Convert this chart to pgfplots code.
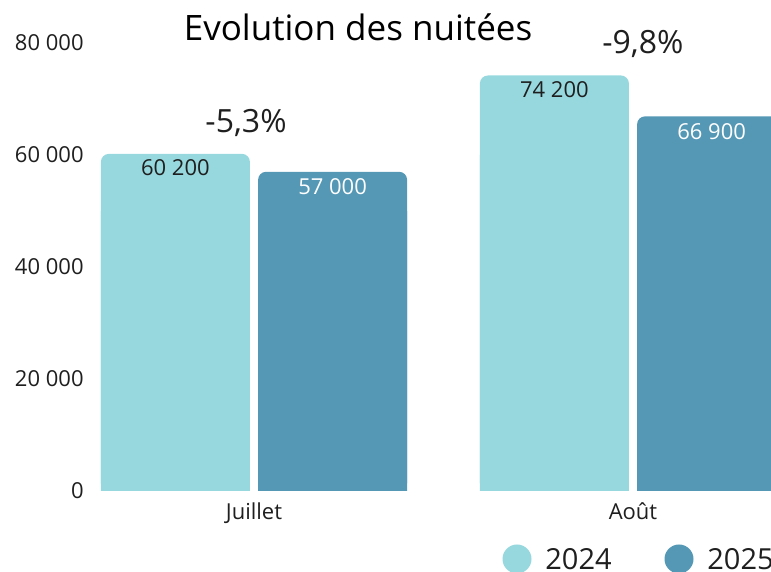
\documentclass[border=0pt]{standalone}
\usepackage{pgfplots}
\pgfplotsset{compat=1.18}
\usepackage{fontspec}
\setmainfont{Open Sans}
\definecolor{light}{HTML}{96D8DE}
\definecolor{dark}{HTML}{5498B5}
\definecolor{txt}{HTML}{1F1F1F}
\begin{document}
\begin{tikzpicture}
\useasboundingbox (0,0) rectangle (385.5pt,286pt);
\clip (0,0) rectangle (385.5pt,286pt);
\begin{axis}[
  at={(45pt,40.5pt)}, anchor=south west,
  scale only axis, width=340.5pt, height=224pt,
  xmin=-0.4327, xmax=1.3641, ymin=0, ymax=80000,
  axis line style={draw=none}, major tick length=0pt,
  scaled y ticks=false,
  xtick={0,1}, xticklabels={Juillet,Août},
  ytick={0,20000,40000,60000,80000},
  yticklabels={0,20 000,40 000,60 000,80 000},
  yticklabel style={anchor=east, inner sep=0pt, xshift=-3pt, font=\fontsize{11}{13}\selectfont, text=txt},
  xticklabel style={anchor=north, inner sep=0pt, yshift=-5.5pt, font=\fontsize{11}{13}\selectfont, text=txt},
  clip=false,
  bar width=74.5pt,
]
% square bases (hide rounded bottom corners)
\addplot[ybar, bar shift=-39.3pt, fill=light, draw=none, forget plot] coordinates {(0,50000) (1,60000)};
\addplot[ybar, bar shift=39.3pt, fill=dark, draw=none, forget plot] coordinates {(0,50000) (1,60000)};
% rounded bars
\addplot[ybar, bar shift=-39.3pt, fill=light, draw=none, rounded corners=4pt,
  point meta=explicit symbolic, nodes near coords,
  every node near coord/.append style={anchor=center, xshift=-39.3pt, yshift=-7.1pt, text=txt, font=\fontsize{11}{13}\selectfont}]
  coordinates {(0,60200) [60 200] (1,74200) [74 200]};
\addplot[ybar, bar shift=39.3pt, fill=dark, draw=none, rounded corners=4pt,
  point meta=explicit symbolic, nodes near coords,
  every node near coord/.append style={anchor=center, xshift=39.3pt, yshift=-7.4pt, text=white, font=\fontsize{11}{13}\selectfont}]
  coordinates {(0,57000) [57 000] (1,66900) [66 900]};
\node[font=\fontsize{16}{18}\selectfont, text=txt] at (axis cs:-0.021,65714) {-5,3\%};
\node[font=\fontsize{16}{18}\selectfont, text=txt] at (axis cs:1.026,79821) {-9,8\%};
\end{axis}
\node[font=\fontsize{17.5}{20}\selectfont] at (179pt,272.5pt) {Evolution des nuitées};
\fill[light] (258.5pt,6.5pt) circle (7.25pt);
\node[anchor=west, inner sep=0pt, font=\fontsize{14.5}{17}\selectfont, text=txt] at (272.5pt,6.5pt) {2024};
\fill[dark] (339.5pt,6.5pt) circle (7.25pt);
\node[anchor=west, inner sep=0pt, font=\fontsize{14.5}{17}\selectfont, text=txt] at (353.5pt,6.5pt) {2025};
\end{tikzpicture}
\end{document}
